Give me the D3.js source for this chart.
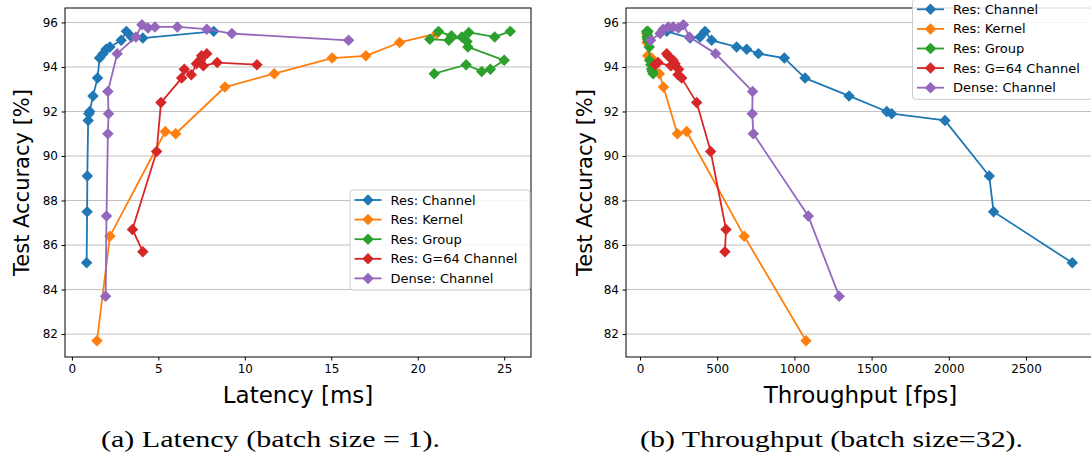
<!DOCTYPE html>
<html>
<head>
<meta charset="utf-8">
<script src="https://cdn.jsdelivr.net/npm/d3@7"></script>
<style>
  body { margin: 0; background: #fff; }
  svg { display: block; }
</style>
</head>
<body>
<div id="chart"></div>
<script>
// legend order
const seriesNames  = ['Res: Channel', 'Res: Kernel', 'Res: Group', 'Res: G=64 Channel', 'Dense: Channel']
const seriesColors = ['#1f77b4', '#ff7f0e', '#2ca02c', '#d62728', '#9467bd']

// Res: Channel
const accResChannel = [85.2, 87.5, 89.1, 91.6, 91.9, 92.0, 92.7, 93.5, 94.4, 94.6, 94.8, 94.9, 95.2, 95.6, 95.35, 95.3, 95.6]
const latResChannel = [0.85, 0.88, 0.89, 0.94, 0.98, 1.03, 1.22, 1.48, 1.6, 1.8, 1.98, 2.2, 2.85, 3.15, 3.45, 4.1, 8.2]
const fpsResChannel = [2800, 2290, 2262, 1975, 1630, 1598, 1354, 1069, 935, 767, 691, 626, 464, 421, 389, 324, 173]

// Res: Kernel
const accResKernel = [81.7, 86.4, 91.1, 91.0, 93.1, 93.7, 94.4, 94.5, 95.1, 95.5]
const latResKernel = [1.45, 2.2, 5.4, 6.0, 8.85, 11.7, 15.05, 17.0, 18.95, 21.1]
const fpsResKernel = [1075, 675, 302, 242, 152, 125, 75, 50, 45, 42]

// Res: Group
const accResGroup = [93.7, 94.1, 93.8, 93.9, 94.3, 94.9, 95.15, 95.4, 95.6, 95.25, 95.2, 95.35, 95.55, 95.35, 95.6]
const latResGroup = [20.95, 22.8, 23.7, 24.2, 25.0, 22.9, 22.85, 21.95, 21.2, 20.7, 21.8, 22.55, 22.95, 24.45, 25.35]
const fpsResGroup = [85, 70, 80, 75, 62, 60, 56, 50, 52, 48, 55, 50, 47, 46, 44]

// Res: G=64 Channel
const accResG64 = [85.7, 86.7, 90.2, 92.4, 93.5, 93.9, 93.65, 94.15, 94.3, 94.5, 94.6, 94.05, 94.2, 94.1]
const latResG64 = [4.1, 3.5, 4.9, 5.15, 6.35, 6.5, 6.9, 7.2, 7.4, 7.5, 7.8, 7.6, 8.4, 10.7]
const fpsResG64 = [550, 557, 458, 367, 270, 250, 246, 227, 214, 181, 173, 200, 117, 97]

// Dense: Channel
const accDenseChannel = [83.7, 87.3, 91.0, 91.9, 92.9, 94.6, 95.35, 95.9, 95.75, 95.8, 95.8, 95.7, 95.5, 95.2]
const latDenseChannel = [1.95, 2.0, 2.08, 2.12, 2.08, 2.62, 3.7, 4.05, 4.4, 4.8, 6.1, 7.8, 9.25, 16.0]
const fpsDenseChannel = [1290, 1090, 734, 727, 729, 490, 320, 281, 248, 215, 183, 150, 130, 69]

const accTicks        = [82, 84, 86, 88, 90, 92, 94, 96]
const latencyTicks    = [0, 5, 10, 15, 20, 25]
const throughputTicks = [0, 500, 1000, 1500, 2000, 2500]

const series = [
  { acc: accResChannel,   lat: latResChannel,   fps: fpsResChannel },
  { acc: accResKernel,    lat: latResKernel,    fps: fpsResKernel },
  { acc: accResGroup,     lat: latResGroup,     fps: fpsResGroup },
  { acc: accResG64,       lat: latResG64,       fps: fpsResG64 },
  { acc: accDenseChannel, lat: latDenseChannel, fps: fpsDenseChannel }
]

const width = 1091, height = 458
const plotTop = 8, plotBottom = 357
const sans = '"DejaVu Sans", sans-serif'
const serif = '"Liberation Serif", "Times New Roman", Tinos, serif'

const panels = [
  { key: 'lat', ticks: latencyTicks, domain: [-0.4, 26.55], left: 65, right: 531,
    xLabel: 'Latency [ms]', yLabelX: 22, caption: '(a) Latency (batch size = 1).', captionX: 270.5, captionW: 339,
    legend: { x: 350, y: 190 } },
  { key: 'fps', ticks: throughputTicks, domain: [-90.7, 2947], left: 626, right: 1095,
    xLabel: 'Throughput [fps]', yLabelX: 585, caption: '(b) Throughput (batch size=32).', captionX: 831.5, captionW: 383,
    legend: { x: 912.5, y: -0.7 } }
]

const svg = d3.select('#chart').append('svg')
  .attr('width', width)
  .attr('height', height)

svg.append('rect')
  .attr('width', width)
  .attr('height', height)
  .attr('fill', '#fff')

const diamond = d3.symbol(d3.symbolSquare, 66)

panels.forEach(p => {
  const x = d3.scaleLinear().domain(p.domain).range([p.left, p.right])
  const y = d3.scaleLinear().domain([80.97, 96.65]).range([plotBottom, plotTop])
  const g = svg.append('g')

  // horizontal grid
  g.append('g').selectAll('line')
    .data(accTicks)
    .join('line')
      .attr('x1', p.left).attr('x2', p.right)
      .attr('y1', d => y(d)).attr('y2', d => y(d))
      .attr('stroke', '#c0c0c0')
      .attr('stroke-width', 1)

  const line = d3.line().x(d => x(d[0])).y(d => y(d[1]))

  series.forEach((s, i) => {
    const pts = s.acc.map((a, j) => [s[p.key][j], a])
    const sg = g.append('g')
    sg.append('path')
      .datum(pts)
      .attr('d', line)
      .attr('fill', 'none')
      .attr('stroke', seriesColors[i])
      .attr('stroke-width', 1.8)
      .attr('stroke-linejoin', 'round')
    sg.selectAll('path.mark')
      .data(pts)
      .join('path')
        .attr('class', 'mark')
        .attr('d', diamond)
        .attr('transform', d => `translate(${x(d[0])},${y(d[1])}) rotate(45)`)
        .attr('fill', seriesColors[i])
  })

  // axes
  const xAxis = g.append('g')
    .attr('transform', `translate(0,${plotBottom})`)
    .call(d3.axisBottom(x).tickValues(p.ticks).tickFormat(d3.format('d'))
      .tickSize(3.5).tickPadding(3.5).tickSizeOuter(0))
  const yAxis = g.append('g')
    .attr('transform', `translate(${p.left},0)`)
    .call(d3.axisLeft(y).tickValues(accTicks).tickFormat(d3.format('d'))
      .tickSize(3.5).tickPadding(3.5).tickSizeOuter(0))
  ;[xAxis, yAxis].forEach(a => {
    a.select('.domain').remove()
    a.attr('font-family', sans).attr('font-size', 12)
    a.selectAll('.tick line').attr('stroke', '#000')
    a.selectAll('.tick text').attr('fill', '#000')
  })

  // spines
  g.append('rect')
    .attr('x', p.left).attr('y', plotTop)
    .attr('width', p.right - p.left).attr('height', plotBottom - plotTop)
    .attr('fill', 'none')
    .attr('stroke', '#000')
    .attr('stroke-width', 1)

  // axis labels
  g.append('text')
    .attr('x', (p.left + p.right) / 2)
    .attr('y', 403)
    .attr('text-anchor', 'middle')
    .attr('font-family', sans)
    .attr('font-size', 23)
    .text(p.xLabel)
  g.append('text')
    .attr('transform', `translate(${p.yLabelX},${(plotTop + plotBottom) / 2}) rotate(-90)`)
    .attr('dy', '0.35em')
    .attr('text-anchor', 'middle')
    .attr('font-family', sans)
    .attr('font-size', 21)
    .text('Test Accuracy [%]')

  // caption
  g.append('text')
    .attr('x', p.captionX)
    .attr('y', 447)
    .attr('text-anchor', 'middle')
    .attr('font-family', serif)
    .attr('font-size', 22.5)
    .attr('textLength', p.captionW)
    .attr('lengthAdjust', 'spacingAndGlyphs')
    .text(p.caption)

  // legend
  const lg = g.append('g').attr('transform', `translate(${p.legend.x},${p.legend.y})`)
  lg.append('rect')
    .attr('width', 180).attr('height', 100)
    .attr('rx', 3)
    .attr('fill', '#fff').attr('fill-opacity', 0.85)
    .attr('stroke', '#cccccc')
  const rows = lg.selectAll('g.row')
    .data(seriesNames)
    .join('g')
      .attr('class', 'row')
      .attr('transform', (d, i) => `translate(0,${10 + i * 19.6})`)
  rows.append('line')
    .attr('x1', 4.5).attr('x2', 31.5)
    .attr('stroke', (d, i) => seriesColors[i])
    .attr('stroke-width', 1.8)
  rows.append('path')
    .attr('d', diamond)
    .attr('transform', 'translate(18,0) rotate(45)')
    .attr('fill', (d, i) => seriesColors[i])
  rows.append('text')
    .attr('x', 40.5)
    .attr('dy', '0.35em')
    .attr('font-family', sans)
    .attr('font-size', 13)
    .text(d => d)
})
</script>
</body>
</html>
